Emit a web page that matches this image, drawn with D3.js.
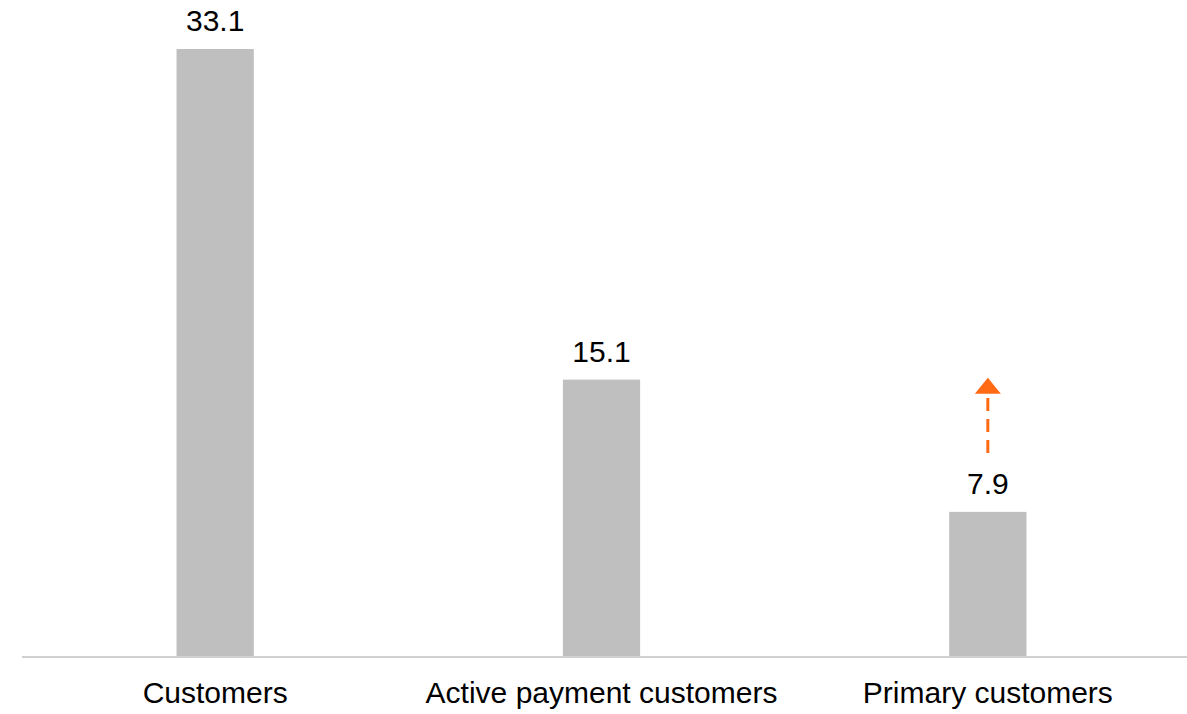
<!DOCTYPE html>
<html>
<head>
<meta charset="utf-8">
<script src="https://cdn.jsdelivr.net/npm/d3@7"></script>
<style>
  html, body { margin: 0; padding: 0; background: #fff; }
  svg { display: block; }
  text { font-family: Arial, "Liberation Sans", sans-serif; fill: #000; }
</style>
</head>
<body>
<svg id="chart" width="1187" height="714"></svg>
<script>
// Customer counts (millions)
const categories = ["Customers", "Active payment customers", "Primary customers"];
const values = [33.1, 15.1, 7.9];
const valueLabels = ["33.1", "15.1", "7.9"];
// Growth ambition arrow on primary customers (value range)
const arrowCategory = "Primary customers";
const arrowFrom = 11.1;
const arrowTo = 15.2;

const svg = d3.select("#chart");
const chartW = 1187;
const baseY = 657, plotTop = 49;

const x = d3.scaleBand().domain(categories).range([22, 1181]).padding(0);
const y = d3.scaleLinear().domain([0, d3.max(values)]).range([baseY, plotTop]);
const barW = x.bandwidth() * 0.2;

// bars
svg.append("g").selectAll("rect")
  .data(categories)
  .join("rect")
  .attr("x", (d) => x(d) + x.bandwidth() / 2 - barW / 2)
  .attr("y", (d, i) => y(values[i]))
  .attr("width", barW)
  .attr("height", (d, i) => y(0) - y(values[i]))
  .attr("fill", "#bfbfbf");

// value labels
svg.append("g").selectAll("text")
  .data(categories)
  .join("text")
  .attr("x", (d) => x(d) + x.bandwidth() / 2)
  .attr("y", (d, i) => y(values[i]) - 18)
  .attr("text-anchor", "middle")
  .style("font-size", "30px")
  .text((d, i) => valueLabels[i]);

// baseline axis
const axis = svg.append("g").attr("transform", `translate(0,${baseY})`)
  .call(d3.axisBottom(x).tickSize(0).tickPadding(0));
axis.select(".domain").attr("d", `M22,0H${chartW}`).attr("stroke", "#d0d0d0").attr("stroke-width", 2);
axis.selectAll(".tick text")
  .attr("y", 46)
  .attr("dy", 0)
  .style("font-size", "30px")
  .style("font-family", "Arial, 'Liberation Sans', sans-serif")
  .attr("fill", "#000");

// dashed growth arrow
const ax = x(arrowCategory) + x.bandwidth() / 2;
const headLen = 16, headHalf = 13;
svg.append("line")
  .attr("x1", ax).attr("x2", ax)
  .attr("y1", y(arrowFrom)).attr("y2", y(arrowTo) + headLen)
  .attr("stroke", "#ff6a13")
  .attr("stroke-width", 3)
  .attr("stroke-dasharray", "13,8");
svg.append("path")
  .attr("d", `M${ax},${y(arrowTo)}L${ax + headHalf},${y(arrowTo) + headLen}L${ax - headHalf},${y(arrowTo) + headLen}Z`)
  .attr("fill", "#ff6a13");
</script>
</body>
</html>
